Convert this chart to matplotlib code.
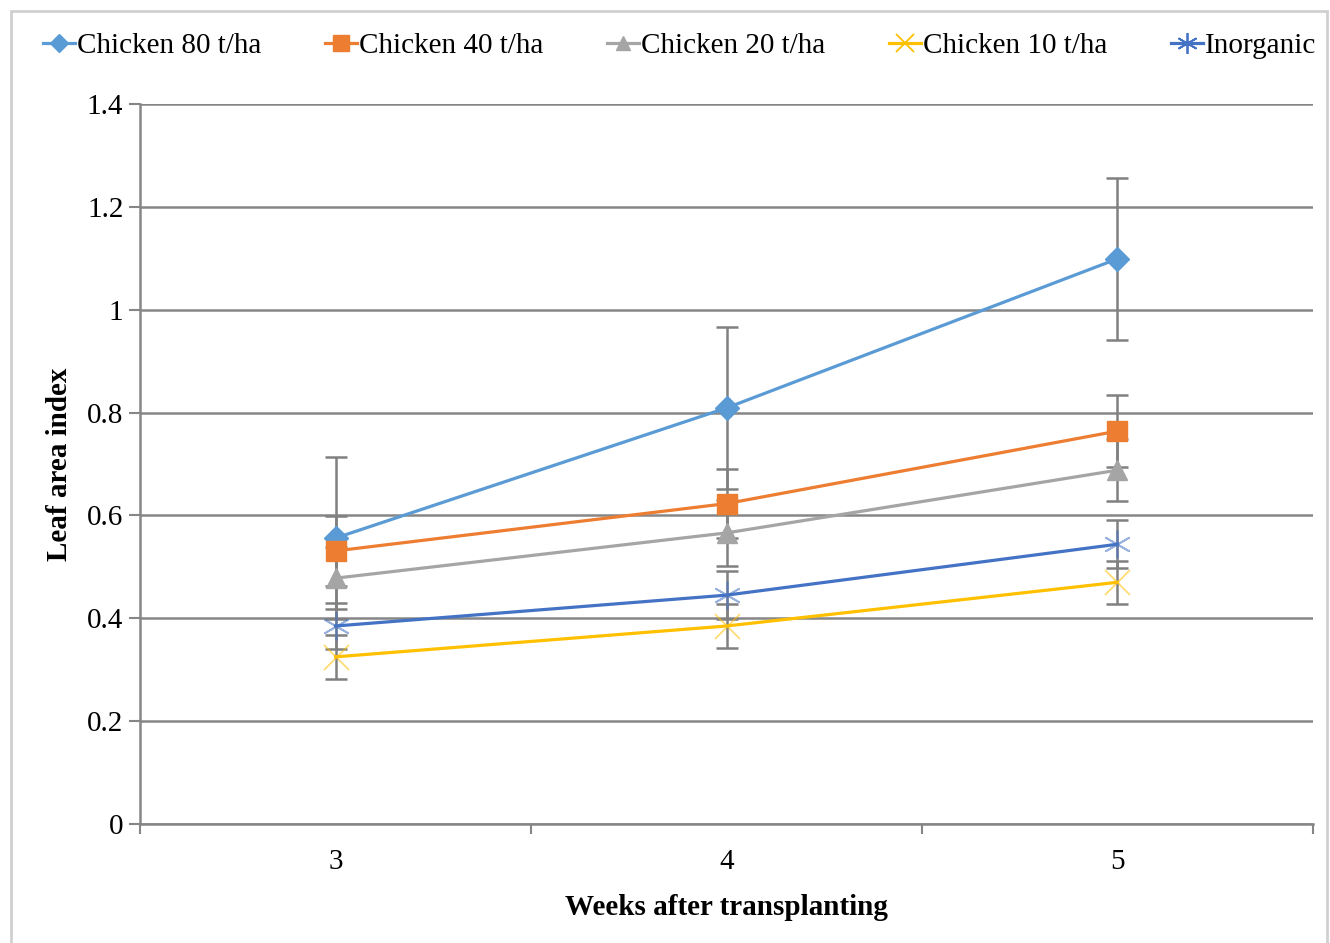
import matplotlib.pyplot as plt
import numpy as np
from matplotlib.patches import Rectangle

plt.rcParams['font.family'] = ['Liberation Serif', 'DejaVu Serif']

weeks = [3, 4, 5]
labels = ['Chicken 80 t/ha', 'Chicken 40 t/ha', 'Chicken 20 t/ha', 'Chicken 10 t/ha', 'Inorganic']
chicken80 = [0.556, 0.809, 1.099]
chicken40 = [0.531, 0.623, 0.764]
chicken20 = [0.478, 0.566, 0.688]
chicken10 = [0.325, 0.385, 0.470]
inorganic = [0.385, 0.445, 0.544]
err80 = [0.158, 0.157, 0.158]
err40 = [0.068, 0.067, 0.070]
err20 = [0.060, 0.064, 0.060]
err10 = [0.043, 0.043, 0.042]
err_inorg = [0.045, 0.046, 0.047]

series = [chicken80, chicken40, chicken20, chicken10, inorganic]
errors = [err80, err40, err20, err10, err_inorg]
colors = ['#5B9BD5', '#ED7D31', '#A5A5A5', '#FFC000', '#4472C4']
markers = ['D', 's', '^', 'x', (6, 2, 0)]
msizes = [12, 15, 14, 18, 20]

fig = plt.figure(figsize=(13.3, 9.43), dpi=100)
ax = fig.add_axes([0.1053, 0.1262, 0.8819, 0.7635])

for vals, errs in zip(series, errors):
    ax.errorbar(weeks, vals, yerr=errs, fmt='none', ecolor='#808080', elinewidth=1.8,
                capsize=8, capthick=1.8, zorder=2)
for vals, c, m, ms, lab in zip(series, colors, markers, msizes, labels):
    thin = m in ('x', (6, 2, 0))
    ax.plot(weeks, vals, color=c, lw=2.3, zorder=3)
    ax.plot(weeks, vals, ls='none', marker=m, ms=ms, mfc=c, mec=c,
            mew=1.3 if thin else 1, alpha=0.55 if thin else 1, zorder=4)
    # legend proxy
    ax.plot([], [], color=c, lw=2.3, marker=m, ms=ms * 0.75, mfc=c, mec=c,
            mew=1.3 if thin else 1, label=lab)

ax.set_xlim(2.5, 5.5)
ax.set_ylim(0, 1.4)
ax.set_yticks(np.arange(0, 1.41, 0.2))
ax.set_yticklabels(['0', '0.2', '0.4', '0.6', '0.8', '1', '1.2', '1.4'])
ax.set_xticks(weeks)
ax.set_xticks([2.5, 3.5, 4.5, 5.5], minor=True)
ax.tick_params(axis='x', which='major', length=0, labelsize=21, pad=18)
ax.tick_params(axis='x', which='minor', length=7, color='#868686', width=1.5)
ax.tick_params(axis='y', length=8, color='#868686', width=1.5, labelsize=21, pad=4)
ax.grid(axis='y', color='#868686', lw=1.8)
ax.set_axisbelow(True)
for s in ['top', 'right']:
    ax.spines[s].set_visible(False)
for s in ['left', 'bottom']:
    ax.spines[s].set_color('#868686')
    ax.spines[s].set_linewidth(1.8)

ax.set_ylabel('Leaf area index', fontsize=21, fontweight='bold', labelpad=10)
ax.set_xlabel('Weeks after transplanting', fontsize=21, fontweight='bold', labelpad=14)

ax.legend(loc='upper center', bbox_to_anchor=(0.46, 1.135), ncol=5, frameon=False,
          fontsize=21, handlelength=1.1, handletextpad=0.05, columnspacing=2.2)

fig.patches.append(Rectangle((0.008, -0.01), 0.99, 0.998, transform=fig.transFigure,
                             fill=False, edgecolor='#d0d0d0', lw=2))

plt.savefig('out.png', dpi=100)
